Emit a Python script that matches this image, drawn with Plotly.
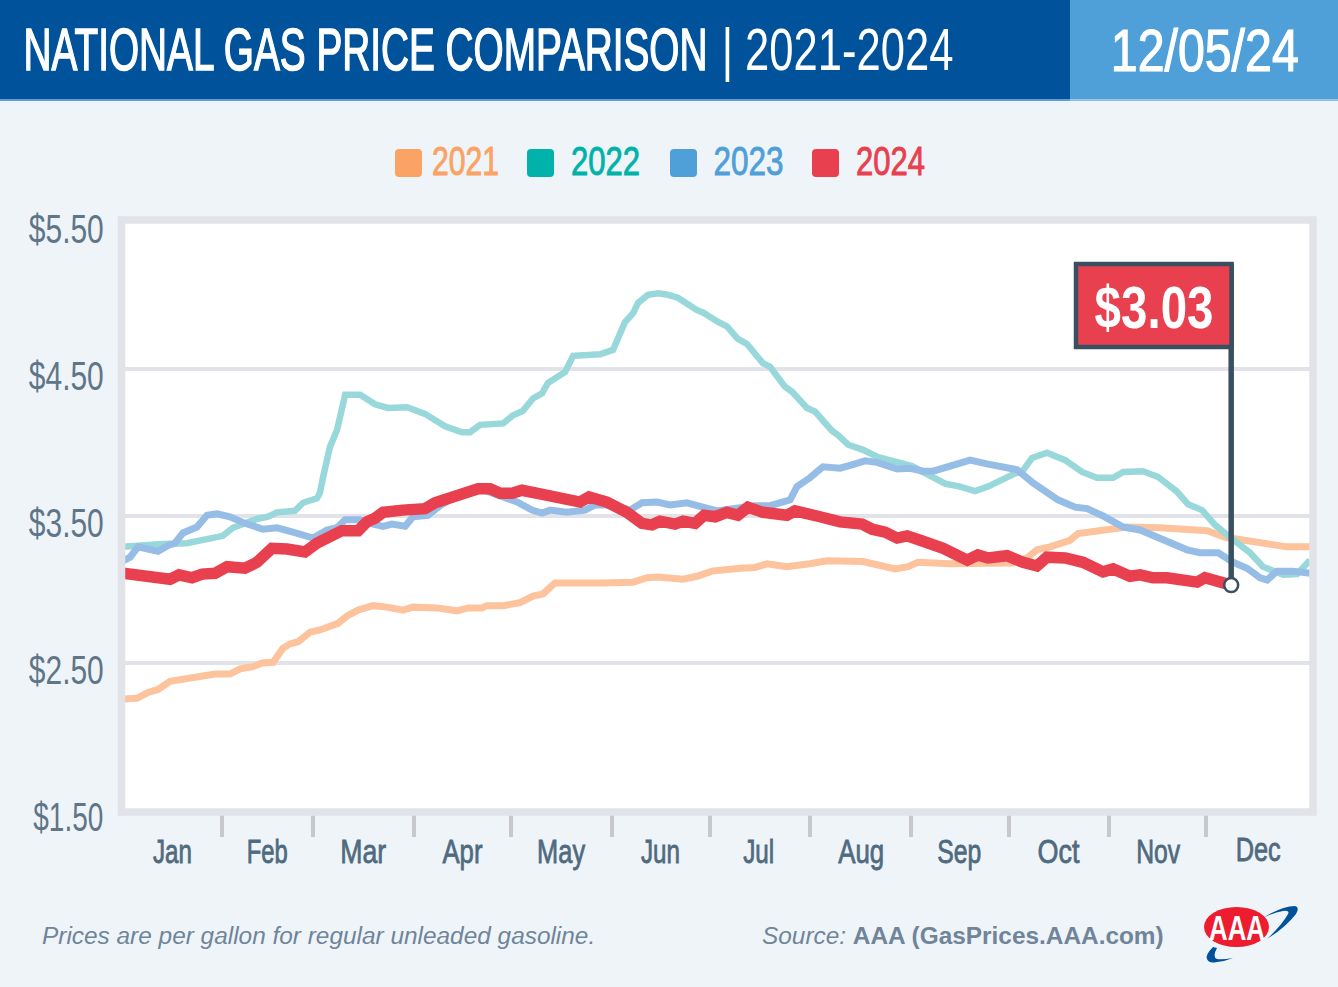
# plot.py - national gas price comparison

import plotly.graph_objects as go

days_2021 = [0, 4.3, 7.7, 10.8, 14.5, 17.6, 21.3, 25.9, 28.4, 33, 36.1, 40.1, 42.9, 46.3, 49.3, 51.5, 54, 57.7, 60.7, 66.3, 69.1, 72.5, 77.1, 81.4, 86.3, 89.4, 96.8, 103, 106.4, 110.7, 112.2, 117.2, 122.4, 126.4, 129.5, 133.2, 136.9, 145.5, 148, 157.3, 161.6, 165, 172.7, 177, 181.6, 190.3, 194.9, 198.6, 204.7, 211.8, 217.1, 228.2, 233.4, 238.1, 242.1, 245.1, 255, 263.3, 274.4, 279.1, 281.8, 285.8, 292, 294.5, 302.2, 309.6, 319.8, 326.9, 334.3, 339.8, 348.4, 358.9, 366]
prices_2021 = [2.255, 2.26, 2.30, 2.32, 2.375, 2.385, 2.40, 2.405, 2.425, 2.425, 2.46, 2.475, 2.50, 2.505, 2.60, 2.63, 2.645, 2.71, 2.725, 2.77, 2.82, 2.86, 2.89, 2.88, 2.86, 2.88, 2.875, 2.855, 2.875, 2.875, 2.89, 2.89, 2.91, 2.955, 2.97, 3.045, 3.045, 3.035, 3.045, 3.05, 3.08, 3.085, 3.07, 3.09, 3.125, 3.145, 3.15, 3.175, 3.155, 3.175, 3.195, 3.19, 3.165, 3.14, 3.155, 3.185, 3.175, 3.18, 3.18, 3.22, 3.27, 3.29, 3.335, 3.38, 3.405, 3.425, 3.42, 3.405, 3.40, 3.355, 3.325, 3.29, 3.29]

days_2022 = [0, 5.2, 12.3, 19.7, 24.7, 28.4, 30.8, 33.9, 37.6, 41.3, 44.7, 47.5, 53, 55.5, 59.8, 60.7, 61.7, 63.8, 66, 68.5, 73.1, 77.7, 81.7, 87.6, 93.1, 99.3, 104.5, 107, 110.1, 117.2, 120.3, 123.3, 126.4, 129.2, 131, 136.3, 138.8, 147.1, 151.1, 154.8, 157.3, 158.8, 161.9, 165, 168, 171.1, 177, 178.8, 183.5, 186.2, 189.6, 192.4, 197.3, 199.5, 204.1, 206.3, 210.9, 213.4, 218.6, 220.5, 223.6, 228.2, 232.8, 239.6, 243.3, 247.9, 253.5, 258.1, 262.7, 266.7, 270.4, 275.1, 277.2, 280.3, 284.9, 290.5, 295.7, 300.3, 305.3, 308.4, 314.5, 319.2, 325, 328.4, 332.7, 336.7, 340.7, 347.5, 351.5, 357.7, 362, 365.4, 366]
prices_2022 = [3.29, 3.30, 3.31, 3.315, 3.335, 3.355, 3.365, 3.42, 3.45, 3.48, 3.495, 3.525, 3.535, 3.59, 3.62, 3.655, 3.765, 3.97, 4.085, 4.325, 4.325, 4.26, 4.235, 4.24, 4.195, 4.11, 4.07, 4.07, 4.12, 4.13, 4.185, 4.215, 4.30, 4.335, 4.405, 4.48, 4.59, 4.60, 4.63, 4.82, 4.88, 4.95, 5.005, 5.015, 5.005, 4.985, 4.90, 4.885, 4.82, 4.79, 4.705, 4.67, 4.54, 4.515, 4.38, 4.345, 4.235, 4.21, 4.08, 4.05, 3.985, 3.95, 3.90, 3.86, 3.84, 3.785, 3.72, 3.70, 3.67, 3.70, 3.745, 3.79, 3.80, 3.895, 3.93, 3.88, 3.80, 3.76, 3.76, 3.80, 3.805, 3.765, 3.665, 3.58, 3.54, 3.44, 3.365, 3.25, 3.155, 3.10, 3.105, 3.195, 3.20]

days_2023 = [0, 2.2, 4.6, 7.7, 10.8, 13.9, 16, 18.5, 22.8, 25.9, 29, 33, 37.6, 43.2, 47.5, 52.4, 58.6, 62.9, 66, 68.5, 73.1, 76.2, 80.2, 82.9, 87, 89.4, 94, 97.7, 101.8, 104.8, 110.1, 116.3, 121.5, 126.1, 129.2, 131.7, 136.9, 142.5, 145.5, 150.8, 156.3, 160, 164.7, 168.7, 173.9, 178.8, 183.2, 188.1, 194.9, 199.5, 202.6, 205.7, 207.8, 211.8, 215.8, 221.1, 224.2, 228.8, 232.5, 238.7, 242.7, 246.7, 249.8, 252.9, 257.2, 261.2, 266.4, 271.4, 275.7, 280.6, 283.7, 288.3, 293.6, 297.3, 302.2, 308.4, 313.6, 318.8, 323.8, 328.1, 332.1, 337.7, 342.3, 346.6, 350.6, 352.8, 355.8, 360.8, 366]
prices_2023 = [3.195, 3.22, 3.29, 3.28, 3.26, 3.30, 3.315, 3.385, 3.425, 3.505, 3.515, 3.495, 3.45, 3.41, 3.42, 3.39, 3.35, 3.405, 3.42, 3.475, 3.475, 3.45, 3.43, 3.445, 3.43, 3.495, 3.505, 3.57, 3.63, 3.665, 3.685, 3.63, 3.595, 3.54, 3.52, 3.54, 3.525, 3.54, 3.575, 3.575, 3.54, 3.59, 3.595, 3.575, 3.59, 3.56, 3.535, 3.55, 3.57, 3.57, 3.595, 3.61, 3.70, 3.76, 3.835, 3.825, 3.845, 3.875, 3.865, 3.82, 3.825, 3.805, 3.805, 3.825, 3.86, 3.88, 3.855, 3.835, 3.815, 3.725, 3.675, 3.61, 3.56, 3.55, 3.50, 3.425, 3.405, 3.355, 3.315, 3.27, 3.25, 3.25, 3.185, 3.145, 3.08, 3.065, 3.125, 3.125, 3.11]

days_2024 = [0, 6.2, 14.5, 17.3, 21.3, 24.4, 28.4, 32.1, 37.6, 41.3, 43.2, 45.9, 50.6, 56.1, 59.8, 64.4, 67.5, 72.5, 75.2, 77.7, 80.2, 86.3, 93.1, 96.2, 100.2, 103, 106.4, 109.5, 113.2, 116.3, 120, 123, 128.6, 133.8, 138.8, 140.9, 143.7, 149.2, 155.4, 160, 163.1, 165.6, 170.2, 172.7, 176.4, 179.2, 182.6, 186.2, 189.6, 192.7, 197.3, 200.4, 204.7, 207.2, 212.5, 214.9, 221.1, 227.9, 231, 235, 238.7, 241.8, 245.8, 249.8, 252.9, 260.3, 263.6, 266.7, 272.6, 277.5, 281.8, 284.9, 290.5, 296, 302.2, 305.3, 310.5, 313.6, 317.6, 321.9, 328.1, 331.2, 333.6, 339.8, 341.7]
prices_2024 = [3.11, 3.085, 3.07, 3.10, 3.08, 3.105, 3.11, 3.155, 3.145, 3.185, 3.215, 3.28, 3.275, 3.255, 3.315, 3.355, 3.40, 3.40, 3.46, 3.485, 3.525, 3.54, 3.55, 3.59, 3.62, 3.64, 3.65, 3.685, 3.685, 3.655, 3.655, 3.675, 3.65, 3.63, 3.595, 3.595, 3.63, 3.595, 3.525, 3.45, 3.44, 3.465, 3.445, 3.465, 3.45, 3.505, 3.495, 3.525, 3.505, 3.56, 3.525, 3.515, 3.505, 3.535, 3.515, 3.495, 3.46, 3.445, 3.41, 3.39, 3.35, 3.365, 3.335, 3.315, 3.28, 3.20, 3.235, 3.215, 3.23, 3.185, 3.16, 3.22, 3.215, 3.185, 3.12, 3.14, 3.09, 3.10, 3.08, 3.08, 3.05, 3.05, 3.08, 3.035, 3.03]

years = ["2021", "2022", "2023", "2024"]
legend_colors = ["#fba265", "#00b2a9", "#4f9fd9", "#e8404f"]
line_colors = ["#fdc39c", "#99d8da", "#96bde6", "#e8404f"]
line_widths = [7, 6.5, 7, 11.5]

month_labels = ["Jan", "Feb", "Mar", "Apr", "May", "Jun", "Jul", "Aug", "Sep", "Oct", "Nov", "Dec"]
month_label_days = [15.4, 44.4, 74.3, 104.8, 135, 165.6, 196, 227.6, 257.8, 288.6, 319, 350]
month_starts = [30.5, 58.6, 89.7, 119.6, 150.8, 181, 211.8, 243, 273.2, 304, 334]
price_ticks = [1.5, 2.5, 3.5, 4.5, 5.5]
price_labels = ["$1.50", "$2.50", "$3.50", "$4.50", "$5.50"]

SANS = "Liberation Sans"
SLATE = "#4f6b80"
FRAME = "#e1e3e8"
DARK = "#3a4f60"

# plot area in pixels, everything outside it is placed from these
L, R, T, B = 123, 1310, 222, 810


def px(x):
    return (x - L) / (R - L)


def py(y):
    return (B - y) / (B - T)


def rect(x0, y0, x1, y1, fill, line_color=None, line_width=0, layer="below"):
    return dict(type="rect", xref="paper", yref="paper", x0=px(x0), x1=px(x1), y0=py(y0), y1=py(y1),
                fillcolor=fill, line=dict(color=line_color, width=line_width), layer=layer)


def path(cmds, fill):
    out = []
    for c in cmds:
        if isinstance(c, str):
            out.append(c)
        else:
            out.append(f"{px(c[0]):.5f},{py(c[1]):.5f}")
    return dict(type="path", xref="paper", yref="paper", path=" ".join(out), fillcolor=fill,
                line=dict(width=0), layer="above")


def round_box(x0, y0, x1, y1, r, fill):
    return path(["M", (x0 + r, y0), "L", (x1 - r, y0), "Q", (x1, y0), (x1, y0 + r), "L", (x1, y1 - r),
                 "Q", (x1, y1), (x1 - r, y1), "L", (x0 + r, y1), "Q", (x0, y1), (x0, y1 - r),
                 "L", (x0, y0 + r), "Q", (x0, y0), (x0 + r, y0), "Z"], fill)


def label(text, x, y, size, color, family=SANS, bold=False, xref="paper"):
    if bold:
        text = f"<b>{text}</b>"
    return dict(text=text, x=px(x) if xref == "paper" else x, y=py(y), xref=xref, yref="paper",
                xanchor="center", yanchor="middle", showarrow=False,
                font=dict(family=family, size=size, color=color))


fig = go.Figure()

all_days = [days_2021, days_2022, days_2023, days_2024]
all_prices = [prices_2021, prices_2022, prices_2023, prices_2024]
for i in range(4):
    fig.add_trace(go.Scatter(x=all_days[i], y=all_prices[i], mode="lines", name=years[i],
                             line=dict(color=line_colors[i], width=line_widths[i])))

# flag pole and end dot on the last 2024 value
last_day = days_2024[-1]
last_price = prices_2024[-1]
fig.add_trace(go.Scatter(x=[last_day, last_day], y=[last_price, 5.22], mode="lines",
                         line=dict(color=DARK, width=5.5)))
fig.add_trace(go.Scatter(x=[last_day], y=[last_price], mode="markers",
                         marker=dict(size=14, color="white", line=dict(color=DARK, width=2.5))))

shapes = [
    rect(0, 0, 1070, 99.5, "#00529b"),
    rect(1070, 0, 1338, 99.5, "#4f9fd9"),
    rect(0, 99.5, 1070, 101, "#4f9fd9"),
    rect(1070, 99.5, 1338, 101, "#8cc0e6"),
    rect(121.5, 220, 1313, 812, "rgba(0,0,0,0)", FRAME, 7.5, layer="above"),
    rect(1076, 264, 1231.5, 347, "#e8404f", DARK, 4.5, layer="above"),
    dict(type="circle", xref="paper", yref="paper", x0=px(1204), x1=px(1269), y0=py(907), y1=py(947),
         fillcolor="#ed1c2e", line=dict(width=0), layer="above"),
    path(["M", (1263, 918), "Q", (1282, 906), (1295, 906), "Q", (1300, 907), (1296, 914),
          "Q", (1285, 928), (1267, 939), "Q", (1282, 925), (1288, 914), "Q", (1290, 910), (1283, 911),
          "Q", (1273, 913), (1263, 918), "Z"], "#00529b"),
    path(["M", (1213, 947), "Q", (1205, 955), (1207, 959), "Q", (1209, 964), (1217, 962),
          "Q", (1226, 961), (1233, 958), "Q", (1222, 960), (1217, 959), "Q", (1212, 957), (1217, 948), "Z"],
         "#00529b"),
]

legend_x = [395, 527, 670, 812]
legend_text_x = [465.5, 605.5, 748, 890.5]
for i in range(4):
    shapes.append(round_box(legend_x[i], 149, legend_x[i] + 27, 177, 4, legend_colors[i]))

annotations = [
    label("NATIONAL GAS PRICE COMPARISON", 365.5, 49, 60, "white"),
    label("| 2021-2024", 837.5, 49, 60, "white"),
    label("12/05/24", 1204.5, 51, 60, "white"),
    label("$3.03", 1153.5, 307, 60, "white", bold=True),
    label("AAA", 1237, 927, 36, "white", bold=True),
    label("<i>Prices are per gallon for regular unleaded gasoline.</i>", 318, 935, 24.4, "#6f8599"),
    label("<i>Source:</i> <b>AAA (GasPrices.AAA.com)</b>", 962.5, 935, 24.4, "#6f8599"),
]
for i in range(4):
    annotations.append(label(years[i], legend_text_x[i], 161, 41, legend_colors[i]))
for i, p in enumerate(price_ticks):
    annotations.append(label(price_labels[i], 66 if p != 1.5 else 68, 817 - (p - 1.5) * 147, 41, "#5f7689"))
for i, m in enumerate(month_labels):
    annotations.append(label(m, month_label_days[i], 849 if m == "Dec" else 851, 34, SLATE, xref="x"))

fig.update_layout(
    width=1338, height=987,
    margin=dict(l=L, r=1338 - R, t=T, b=987 - B, pad=0),
    paper_bgcolor="#eff4f9", plot_bgcolor="white",
    showlegend=False,
    shapes=shapes, annotations=annotations,
    xaxis=dict(range=[0, 366], tickvals=month_starts, showticklabels=False, ticks="outside", ticklen=26,
               tickwidth=4, tickcolor="#c6c8cc", showgrid=False, zeroline=False, showline=False),
    yaxis=dict(range=[1.5, 5.5], tickvals=price_ticks, showticklabels=False, ticks="", showgrid=True,
               gridcolor=FRAME, gridwidth=4, zeroline=False, showline=False),
)

# the condensed headline face isn't installed: shrink the text to the measured width, then
# stretch it back up around its baseline. A thin stroke stands in for the medium weight.
post = """
document.body.style.margin = '0';
var widths = {'NATIONAL GAS PRICE COMPARISON': 684, '| 2021-2024': 232, '12/05/24': 188, '$3.03': 119,
  '2021': 67, '2022': 69, '2023': 70, '2024': 69, '$5.50': 75, '$4.50': 75, '$3.50': 75, '$2.50': 75, '$1.50': 70,
  'Jan': 39, 'Feb': 41, 'Mar': 46, 'Apr': 40, 'May': 48, 'Jun': 39, 'Jul': 31, 'Aug': 46, 'Sep': 44,
  'Oct': 42, 'Nov': 44, 'Dec': 45, 'AAA': 56};
var strokes = {'NATIONAL GAS PRICE COMPARISON': 1, '12/05/24': 1, '2021': 0.7, '2022': 0.7, '2023': 0.7, '2024': 0.7,
  'Jan': 0.6, 'Feb': 0.6, 'Mar': 0.6, 'Apr': 0.6, 'May': 0.6, 'Jun': 0.6, 'Jul': 0.6, 'Aug': 0.6, 'Sep': 0.6,
  'Oct': 0.6, 'Nov': 0.6, 'Dec': 0.6};
document.querySelectorAll('.annotation-text').forEach(function (t) {
  var w = widths[t.textContent];
  var s = strokes[t.textContent];
  if (w) {
    var box = t.parentNode.querySelector('rect.bg');
    if (box) {
      var old = parseFloat(box.getAttribute('width'));
      box.setAttribute('x', parseFloat(box.getAttribute('x') || 0) + (old - w) / 2);
      box.setAttribute('width', w);
    }
    var y = parseFloat(t.getAttribute('y') || 0);
    var k = w / t.getComputedTextLength();
    t.style.fontSize = parseFloat(t.style.fontSize) * k + 'px';
    t.setAttribute('transform', 'translate(0,' + y + ') scale(1,' + (1 / k) + ') translate(0,' + (-y) + ')');
  }
  if (s) { t.style.stroke = t.style.fill; t.style.strokeWidth = s + 'px'; }
});
"""

fig.write_html("out.html", post_script=post, config=dict(displayModeBar=False))
